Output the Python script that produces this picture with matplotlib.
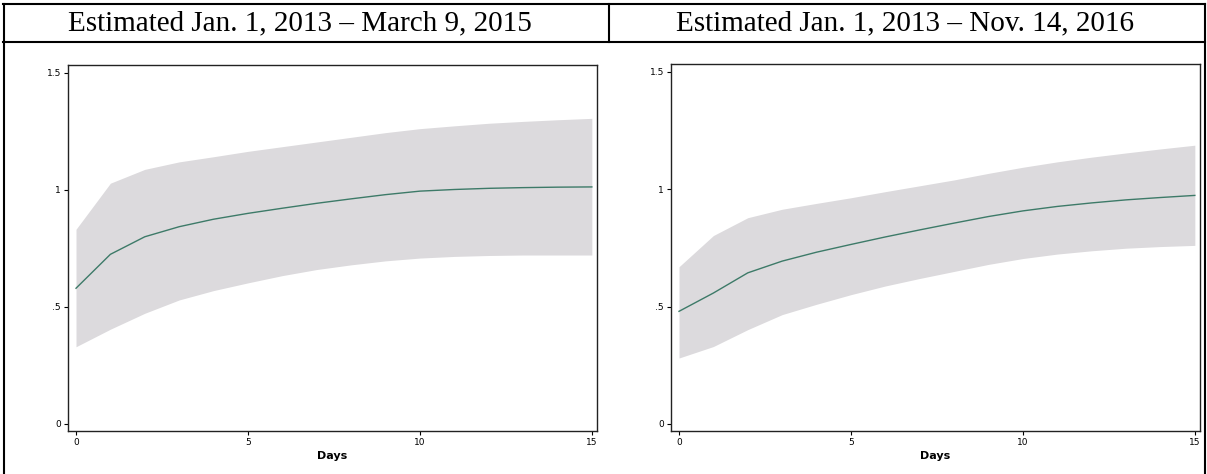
import matplotlib.pyplot as plt
from matplotlib.lines import Line2D

# estimated cumulative effect by day
days = list(range(16))

left_title = "Estimated Jan. 1, 2013 \u2013 March 9, 2015"
left_mean = [0.58, 0.725, 0.80, 0.843, 0.875, 0.90, 0.922, 0.943, 0.962, 0.98,
             0.995, 1.002, 1.007, 1.01, 1.012, 1.013]
left_upper = [0.832, 1.029, 1.088, 1.12, 1.142, 1.165, 1.185, 1.205, 1.225, 1.245,
              1.262, 1.274, 1.285, 1.293, 1.30, 1.306]
left_lower = [0.33, 0.405, 0.473, 0.53, 0.57, 0.603, 0.634, 0.66, 0.68, 0.697,
              0.709, 0.716, 0.720, 0.722, 0.722, 0.722]

right_title = "Estimated Jan. 1, 2013 \u2013 Nov. 14, 2016"
right_mean = [0.48, 0.558, 0.644, 0.694, 0.732, 0.765, 0.797, 0.827, 0.856, 0.884,
              0.908, 0.927, 0.942, 0.955, 0.965, 0.974]
right_upper = [0.67, 0.803, 0.879, 0.915, 0.94, 0.964, 0.99, 1.015, 1.04, 1.068,
               1.094, 1.117, 1.137, 1.155, 1.172, 1.188]
right_lower = [0.281, 0.33, 0.402, 0.466, 0.51, 0.551, 0.588, 0.62, 0.65, 0.68,
               0.705, 0.724, 0.738, 0.749, 0.756, 0.761]

xticks = [0, 5, 10, 15]
yticks = [0, 0.5, 1, 1.5]
ytick_labels = ["0", ".5", "1", "1.5"]

W, H = 1207, 474
fig = plt.figure(figsize=(W / 100, H / 100), dpi=100)

def px_axes(l, r, t, b):
    return fig.add_axes([l / W, 1 - b / H, (r - l) / W, (b - t) / H])

panels = [
    (px_axes(68, 597, 65, 431), left_mean, left_upper, left_lower),
    (px_axes(671, 1200, 64, 431), right_mean, right_upper, right_lower),
]

for ax, mean, upper, lower in panels:
    ax.fill_between(days, lower, upper, color="#dcdadd", linewidth=0)
    ax.plot(days, mean, color="#3d7a68", linewidth=1.0)
    ax.set_xlim(-0.233, 15.15)
    ax.set_ylim(-0.03, 1.534)
    ax.set_xticks(xticks)
    ax.set_yticks(yticks)
    ax.set_yticklabels(ytick_labels)
    ax.tick_params(direction="out", length=3, width=0.8, labelsize=6.5, pad=2)
    ax.set_xlabel("Days", fontsize=8, fontweight="bold", labelpad=3)
    for s in ax.spines.values():
        s.set_linewidth(1.0)
        s.set_color("#222222")

# table-like frame around the scan
def hline(x0, x1, y, lw=1.5):
    fig.add_artist(Line2D([x0 / W, x1 / W], [1 - y / H, 1 - y / H],
                          color="black", linewidth=lw))

def vline(x, y0, y1, lw=1.5):
    fig.add_artist(Line2D([x / W, x / W], [1 - y0 / H, 1 - y1 / H],
                          color="black", linewidth=lw))

hline(3, 1205, 4)
hline(3, 1205, 42)
vline(4, 4, 474)
vline(609, 4, 42)
vline(1205, 4, 474)

fig.text(300 / W, 1 - 23 / H, left_title, ha="center", va="center",
         fontsize=21, family="Liberation Serif")
fig.text(905 / W, 1 - 23 / H, right_title, ha="center", va="center",
         fontsize=21, family="Liberation Serif")

fig.savefig("out.png", dpi=100)
